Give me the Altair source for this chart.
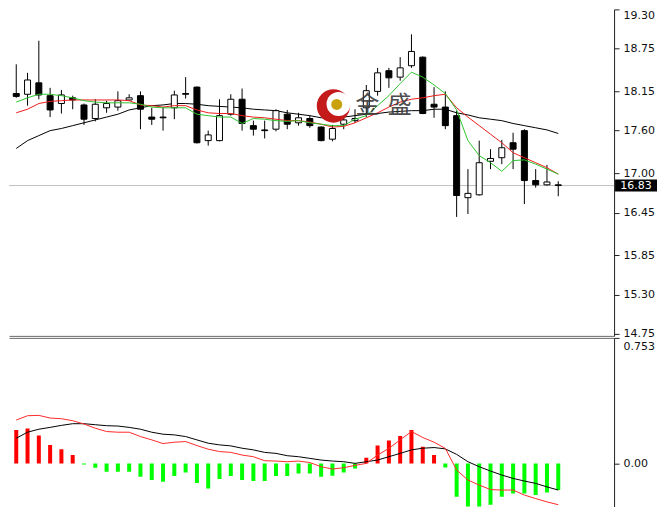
import altair as alt
import pandas as pd

# ---------------- data ----------------
idx = list(range(49))
opens = [18.12, 18.11, 18.27, 18.09, 17.98, 18.06, 17.96, 17.77, 17.92, 17.93,
         18.03, 18.09, 17.79, 17.79, 17.92, 18.12, 18.21, 17.46, 17.46, 17.83,
         18.04, 17.67, 17.61, 17.62, 17.83, 17.71, 17.77, 17.65, 17.48, 17.69,
         17.74, 17.92, 18.15, 18.44, 18.35, 18.51, 18.63, 17.97, 17.93, 17.81,
         16.66, 16.70, 17.17, 17.22, 17.43, 17.60, 16.90, 16.84, 16.84]
highs = [18.53, 18.41, 18.86, 18.20, 18.17, 18.09, 17.98, 18.04, 18.02, 18.15,
         18.11, 18.15, 17.92, 17.93, 18.16, 18.35, 18.22, 17.60, 18.04, 18.11,
         18.19, 17.74, 17.74, 17.90, 17.89, 17.85, 17.81, 17.66, 17.68, 17.81,
         17.90, 18.24, 18.48, 18.48, 18.63, 18.95, 18.64, 18.21, 18.15, 17.88,
         17.06, 17.46, 17.34, 17.47, 17.57, 17.62, 17.06, 17.12, 16.89]
lows = [18.06, 17.95, 18.04, 17.79, 17.84, 17.90, 17.68, 17.73, 17.85, 17.88,
        18.02, 17.62, 17.68, 17.60, 17.76, 18.05, 17.42, 17.39, 17.45, 17.81,
        17.60, 17.53, 17.49, 17.59, 17.62, 17.67, 17.64, 17.45, 17.45, 17.62,
        17.71, 17.79, 18.09, 18.20, 18.30, 18.48, 17.83, 17.78, 17.62, 16.39,
        16.43, 16.69, 17.06, 17.13, 17.06, 16.57, 16.80, 16.83, 16.68]
closes = [18.08, 18.31, 18.10, 17.89, 18.10, 18.03, 17.76, 17.97, 17.98, 18.02,
          18.06, 17.90, 17.76, 17.78, 18.10, 18.11, 17.43, 17.54, 17.81, 18.04,
          17.70, 17.62, 17.60, 17.88, 17.69, 17.78, 17.67, 17.46, 17.63, 17.75,
          17.77, 18.16, 18.41, 18.34, 18.48, 18.71, 17.84, 17.93, 17.67, 16.69,
          16.72, 17.15, 17.21, 17.36, 17.34, 16.90, 16.84, 16.88, 16.83]

ma_green = [18.00, 18.06, 18.11, 18.11, 18.09, 18.06, 18.02, 18.00, 17.99, 17.99,
            17.99, 17.97, 17.93, 17.92, 17.92, 17.92, 17.83, 17.81, 17.79, 17.79,
            17.70, 17.77, 17.76, 17.74, 17.73, 17.74, 17.71, 17.69, 17.67, 17.67,
            17.76, 17.81, 17.95, 18.09, 18.26, 18.42, 18.35, 18.24, 18.12, 17.89,
            17.46, 17.25, 17.15, 17.03, 17.18, 17.19, 17.13, 17.06, 16.99]
ma_red = [17.85, 17.90, 17.98, 18.01, 18.02, 18.03, 18.03, 18.03, 18.03, 18.03,
          18.02, 17.96, 17.95, 17.93, 17.95, 17.95, 17.89, 17.85, 17.84, 17.84,
          17.81, 17.79, 17.78, 17.76, 17.74, 17.74, 17.72, 17.69, 17.65, 17.66,
          17.71, 17.78, 17.85, 17.93, 18.00, 18.04, 18.06, 18.09, 18.11, 17.92,
          17.79, 17.67, 17.55, 17.43, 17.29, 17.22, 17.15, 17.08, 16.99]
ma_black = [17.35, 17.46, 17.53, 17.60, 17.63, 17.67, 17.71, 17.75, 17.79, 17.83,
            17.89, 17.92, 17.95, 17.96, 17.98, 17.98, 17.97, 17.95, 17.94, 17.93,
            17.92, 17.90, 17.89, 17.88, 17.85, 17.83, 17.81, 17.78, 17.78, 17.79,
            17.81, 17.83, 17.84, 17.86, 17.87, 17.88, 17.88, 17.90, 17.90, 17.85,
            17.82, 17.78, 17.76, 17.74, 17.70, 17.67, 17.64, 17.61, 17.56]

hist = [0.20, 0.21, 0.167, 0.111, 0.085, 0.05, -0.006, -0.026, -0.05, -0.05,
        -0.05, -0.08, -0.10, -0.11, -0.076, -0.054, -0.117, -0.151, -0.094, -0.076,
        -0.10, -0.106, -0.106, -0.076, -0.076, -0.06, -0.06, -0.08, -0.074, -0.054,
        -0.03, 0.034, 0.107, 0.137, 0.165, 0.20, 0.10, 0.05, -0.025, -0.20,
        -0.29, -0.275, -0.248, -0.20, -0.18, -0.18, -0.19, -0.175, -0.16]
macd_red = [0.26, 0.286, 0.288, 0.272, 0.268, 0.256, 0.236, 0.211, 0.191, 0.187,
            0.187, 0.161, 0.141, 0.119, 0.127, 0.131, 0.107, 0.085, 0.071, 0.066,
            0.05, 0.04, 0.016, 0.014, 0.01, 0.014, 0.005, -0.02, -0.034, -0.026,
            -0.012, 0.0, 0.05, 0.09, 0.141, 0.191, 0.155, 0.127, 0.09, -0.04,
            -0.10, -0.13, -0.157, -0.16, -0.16, -0.19, -0.211, -0.231, -0.248]
macd_black = [0.151, 0.187, 0.205, 0.216, 0.228, 0.238, 0.238, 0.232, 0.226, 0.224,
              0.216, 0.205, 0.187, 0.175, 0.171, 0.161, 0.141, 0.121, 0.111, 0.105,
              0.091, 0.081, 0.066, 0.06, 0.046, 0.04, 0.03, 0.02, 0.014, 0.01,
              0.0, 0.01, 0.02, 0.04, 0.06, 0.081, 0.091, 0.095, 0.087, 0.054,
              0.01, -0.02, -0.046, -0.07, -0.09, -0.106, -0.12, -0.141, -0.16]

price_ticks = [19.30, 18.75, 18.15, 17.60, 17.00, 16.45, 15.85, 15.30, 14.75]
macd_ticks = [0.753, 0.0]
macd_tick_labels = ["0.753", "0.00"]
last_price = 16.83

logo_x = [28.09, 28.54, 28.38]
logo_y = [17.946, 17.974, 17.967]
logo_size = [1116, 576, 121]
logo_color = ["#c41a1a", "#ffffff", "#c9a10c"]
brand_text = ["金", "盛"]
brand_x = [31.1, 33.97]
brand_y = [17.946, 17.946]

# ---------------- layout ----------------
W = 606
H_TOP = 327
H_BOT = 169
X_DOMAIN = [-0.2, 52.5]
P_DOMAIN = [14.7221, 19.30]
M_DOMAIN = [-0.2594, 0.753]
FONT = "DejaVu Sans"

candles = pd.DataFrame({"idx": idx, "open": opens, "high": highs,
                        "low": lows, "close": closes})
candles["bear"] = candles["close"] < candles["open"]

xscale = alt.Scale(domain=X_DOMAIN, nice=False, zero=False)


def x_enc(orient):
    return alt.X("idx:Q", scale=xscale,
                 axis=alt.Axis(orient=orient, labels=False, ticks=False, grid=False,
                               domainColor="#6a6a6a", title=None))


yaxis_top = alt.Axis(orient="right", values=price_ticks, format=".2f", grid=False,
                     domainColor="#202020", tickColor="#202020", tickSize=5,
                     labelPadding=4, labelFont=FONT, labelFontSize=11,
                     labelColor="#111111", labelFlush=True, title=None)
pscale = alt.Scale(domain=P_DOMAIN, nice=False, zero=False)


def y_top(field):
    return alt.Y(f"{field}:Q", scale=pscale, axis=yaxis_top)


# price line
price_line = alt.Chart(pd.DataFrame({"p": [last_price]})).mark_rule(
    color="#c0c0c0", strokeWidth=1).encode(y=y_top("p"))


# moving averages
def ma_layer(values, color):
    df = pd.DataFrame({"idx": idx, "v": values})
    return alt.Chart(df).mark_line(color=color, strokeWidth=1, clip=True).encode(
        x=x_enc("bottom"), y=y_top("v"))


wicks = alt.Chart(candles).mark_rule(color="black", strokeWidth=1, clip=True).encode(
    x=x_enc("bottom"), y=y_top("low"), y2="high")
bodies = alt.Chart(candles).mark_bar(size=6, stroke="black", strokeWidth=1,
                                     clip=True).encode(
    x=x_enc("bottom"), y=y_top("open"), y2="close",
    fill=alt.condition("datum.bear", alt.value("black"), alt.value("white")))

logo = alt.Chart(pd.DataFrame({"idx": logo_x, "p": logo_y, "s": logo_size,
                               "c": logo_color})).mark_point(
    filled=True, shape="circle", opacity=1, strokeWidth=0).encode(
    x=x_enc("bottom"), y=y_top("p"),
    size=alt.Size("s:Q", scale=None, legend=None),
    color=alt.Color("c:N", scale=None, legend=None))
brand = alt.Chart(pd.DataFrame({"idx": brand_x, "p": brand_y, "t": brand_text})).mark_text(
    font="Noto Sans CJK SC", fontSize=24, color="#3a3a3a", opacity=0.9,
    align="center", baseline="middle").encode(
    x=x_enc("bottom"), y=y_top("p"), text="t:N")

box_df = pd.DataFrame({"p": [last_price]})
box = alt.Chart(box_df).mark_tick(color="black", orient="horizontal", size=42,
                                  thickness=12, opacity=1).encode(
    x=alt.value(W + 22), y=y_top("p"))
box_text = alt.Chart(box_df).mark_text(color="white", font=FONT, fontSize=11,
                                       align="center", baseline="middle").encode(
    x=alt.value(W + 22), y=y_top("p"), text=alt.Text("p:Q", format=".2f"))

top = alt.layer(
    price_line,
    ma_layer(ma_black, "#000000"),
    wicks, bodies,
    ma_layer(ma_red, "#ee1c1c"),
    ma_layer(ma_green, "#2ec42e"),
    logo, brand, box, box_text,
).properties(width=W, height=H_TOP)

# ---------------- MACD panel ----------------
label_expr = " : ".join(
    [f"datum.value == {v} ? '{t}'" for v, t in zip(macd_ticks, macd_tick_labels)]
) + " : ''"
yaxis_bot = alt.Axis(orient="right", values=macd_ticks, labelExpr=label_expr, grid=False,
                     domainColor="#202020", tickColor="#202020", tickSize=5,
                     labelPadding=4, labelFont=FONT, labelFontSize=11,
                     labelColor="#111111", labelFlush=True, labelFlushOffset=-3,
                     title=None)
mscale = alt.Scale(domain=M_DOMAIN, nice=False, zero=False)


def y_bot(field):
    return alt.Y(f"{field}:Q", scale=mscale, axis=yaxis_bot)


macd_df = pd.DataFrame({"idx": idx, "h": hist, "r": macd_red, "b": macd_black,
                        "z": [0.0] * len(idx)})
bars = alt.Chart(macd_df).mark_bar(size=4, clip=True).encode(
    x=x_enc("top"), y=y_bot("z"), y2="h",
    color=alt.condition("datum.h > 0", alt.value("#ff0000"), alt.value("#00ff00")))
red_line = alt.Chart(macd_df).mark_line(color="#ff2a2a", strokeWidth=1, clip=True).encode(
    x=x_enc("top"), y=y_bot("r"))
black_line = alt.Chart(macd_df).mark_line(color="#000000", strokeWidth=1, clip=True).encode(
    x=x_enc("top"), y=y_bot("b"))

bottom = alt.layer(bars, black_line, red_line).properties(width=W, height=H_BOT)

chart = alt.vconcat(top, bottom, spacing=2, bounds="flush").properties(
    padding=0, background="white"
).configure_view(stroke=None)

chart.save("out.html", embed_options={"renderer": "svg", "actions": False})
